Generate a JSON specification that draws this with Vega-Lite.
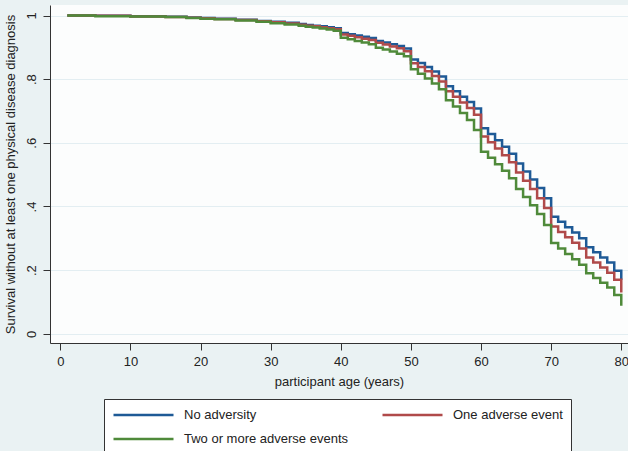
{
  "$schema": "https://vega.github.io/schema/vega-lite/v6.json",
  "width": 578,
  "height": 338,
  "autosize": {"type": "none"},
  "padding": {"left": 50, "top": 5, "right": 0, "bottom": 108},
  "background": "#eaf2f3",
  "config": {
    "font": "Liberation Sans",
    "view": {"fill": "#fcfdfd", "stroke": null}
  },
  "datasets": {
    "km": [
      {"age":1,"surv":1.0,"group":"No adversity"},{"age":5,"surv":0.999,"group":"No adversity"},{"age":10,"surv":0.998,"group":"No adversity"},{"age":15,"surv":0.996,"group":"No adversity"},{"age":18,"surv":0.994,"group":"No adversity"},{"age":20,"surv":0.992,"group":"No adversity"},{"age":22,"surv":0.990,"group":"No adversity"},{"age":25,"surv":0.987,"group":"No adversity"},{"age":28,"surv":0.983,"group":"No adversity"},{"age":30,"surv":0.980,"group":"No adversity"},{"age":32,"surv":0.977,"group":"No adversity"},{"age":34,"surv":0.973,"group":"No adversity"},{"age":35,"surv":0.970,"group":"No adversity"},{"age":36,"surv":0.968,"group":"No adversity"},{"age":37,"surv":0.966,"group":"No adversity"},{"age":38,"surv":0.963,"group":"No adversity"},{"age":39,"surv":0.960,"group":"No adversity"},
      {"age":40,"surv":0.945,"group":"No adversity"},{"age":41,"surv":0.941,"group":"No adversity"},{"age":42,"surv":0.937,"group":"No adversity"},{"age":43,"surv":0.933,"group":"No adversity"},{"age":44,"surv":0.929,"group":"No adversity"},{"age":45,"surv":0.920,"group":"No adversity"},{"age":46,"surv":0.915,"group":"No adversity"},{"age":47,"surv":0.910,"group":"No adversity"},{"age":48,"surv":0.904,"group":"No adversity"},{"age":49,"surv":0.896,"group":"No adversity"},
      {"age":50,"surv":0.862,"group":"No adversity"},{"age":51,"surv":0.851,"group":"No adversity"},{"age":52,"surv":0.838,"group":"No adversity"},{"age":53,"surv":0.824,"group":"No adversity"},{"age":54,"surv":0.808,"group":"No adversity"},{"age":55,"surv":0.778,"group":"No adversity"},{"age":56,"surv":0.762,"group":"No adversity"},{"age":57,"surv":0.745,"group":"No adversity"},{"age":58,"surv":0.728,"group":"No adversity"},{"age":59,"surv":0.708,"group":"No adversity"},
      {"age":60,"surv":0.646,"group":"No adversity"},{"age":61,"surv":0.628,"group":"No adversity"},{"age":62,"surv":0.608,"group":"No adversity"},{"age":63,"surv":0.588,"group":"No adversity"},{"age":64,"surv":0.566,"group":"No adversity"},{"age":65,"surv":0.535,"group":"No adversity"},{"age":66,"surv":0.510,"group":"No adversity"},{"age":67,"surv":0.485,"group":"No adversity"},{"age":68,"surv":0.458,"group":"No adversity"},{"age":69,"surv":0.426,"group":"No adversity"},
      {"age":70,"surv":0.368,"group":"No adversity"},{"age":71,"surv":0.352,"group":"No adversity"},{"age":72,"surv":0.335,"group":"No adversity"},{"age":73,"surv":0.318,"group":"No adversity"},{"age":74,"surv":0.300,"group":"No adversity"},{"age":75,"surv":0.272,"group":"No adversity"},{"age":76,"surv":0.256,"group":"No adversity"},{"age":77,"surv":0.240,"group":"No adversity"},{"age":78,"surv":0.224,"group":"No adversity"},{"age":79,"surv":0.198,"group":"No adversity"},{"age":80,"surv":0.170,"group":"No adversity"},

      {"age":1,"surv":1.0,"group":"One adverse event"},{"age":5,"surv":0.999,"group":"One adverse event"},{"age":10,"surv":0.997,"group":"One adverse event"},{"age":15,"surv":0.995,"group":"One adverse event"},{"age":18,"surv":0.993,"group":"One adverse event"},{"age":20,"surv":0.991,"group":"One adverse event"},{"age":22,"surv":0.989,"group":"One adverse event"},{"age":25,"surv":0.986,"group":"One adverse event"},{"age":28,"surv":0.982,"group":"One adverse event"},{"age":30,"surv":0.979,"group":"One adverse event"},{"age":32,"surv":0.975,"group":"One adverse event"},{"age":34,"surv":0.971,"group":"One adverse event"},{"age":35,"surv":0.968,"group":"One adverse event"},{"age":36,"surv":0.966,"group":"One adverse event"},{"age":37,"surv":0.963,"group":"One adverse event"},{"age":38,"surv":0.960,"group":"One adverse event"},{"age":39,"surv":0.957,"group":"One adverse event"},
      {"age":40,"surv":0.940,"group":"One adverse event"},{"age":41,"surv":0.936,"group":"One adverse event"},{"age":42,"surv":0.932,"group":"One adverse event"},{"age":43,"surv":0.927,"group":"One adverse event"},{"age":44,"surv":0.923,"group":"One adverse event"},{"age":45,"surv":0.914,"group":"One adverse event"},{"age":46,"surv":0.909,"group":"One adverse event"},{"age":47,"surv":0.903,"group":"One adverse event"},{"age":48,"surv":0.897,"group":"One adverse event"},{"age":49,"surv":0.888,"group":"One adverse event"},
      {"age":50,"surv":0.850,"group":"One adverse event"},{"age":51,"surv":0.838,"group":"One adverse event"},{"age":52,"surv":0.825,"group":"One adverse event"},{"age":53,"surv":0.810,"group":"One adverse event"},{"age":54,"surv":0.793,"group":"One adverse event"},{"age":55,"surv":0.762,"group":"One adverse event"},{"age":56,"surv":0.745,"group":"One adverse event"},{"age":57,"surv":0.727,"group":"One adverse event"},{"age":58,"surv":0.709,"group":"One adverse event"},{"age":59,"surv":0.688,"group":"One adverse event"},
      {"age":60,"surv":0.620,"group":"One adverse event"},{"age":61,"surv":0.602,"group":"One adverse event"},{"age":62,"surv":0.582,"group":"One adverse event"},{"age":63,"surv":0.561,"group":"One adverse event"},{"age":64,"surv":0.539,"group":"One adverse event"},{"age":65,"surv":0.507,"group":"One adverse event"},{"age":66,"surv":0.481,"group":"One adverse event"},{"age":67,"surv":0.455,"group":"One adverse event"},{"age":68,"surv":0.426,"group":"One adverse event"},{"age":69,"surv":0.395,"group":"One adverse event"},
      {"age":70,"surv":0.337,"group":"One adverse event"},{"age":71,"surv":0.320,"group":"One adverse event"},{"age":72,"surv":0.303,"group":"One adverse event"},{"age":73,"surv":0.286,"group":"One adverse event"},{"age":74,"surv":0.268,"group":"One adverse event"},{"age":75,"surv":0.240,"group":"One adverse event"},{"age":76,"surv":0.224,"group":"One adverse event"},{"age":77,"surv":0.208,"group":"One adverse event"},{"age":78,"surv":0.192,"group":"One adverse event"},{"age":79,"surv":0.170,"group":"One adverse event"},{"age":80,"surv":0.130,"group":"One adverse event"},

      {"age":1,"surv":1.0,"group":"Two or more adverse events"},{"age":5,"surv":0.998,"group":"Two or more adverse events"},{"age":10,"surv":0.997,"group":"Two or more adverse events"},{"age":15,"surv":0.995,"group":"Two or more adverse events"},{"age":18,"surv":0.992,"group":"Two or more adverse events"},{"age":20,"surv":0.990,"group":"Two or more adverse events"},{"age":22,"surv":0.988,"group":"Two or more adverse events"},{"age":25,"surv":0.984,"group":"Two or more adverse events"},{"age":28,"surv":0.980,"group":"Two or more adverse events"},{"age":30,"surv":0.976,"group":"Two or more adverse events"},{"age":32,"surv":0.972,"group":"Two or more adverse events"},{"age":34,"surv":0.968,"group":"Two or more adverse events"},{"age":35,"surv":0.965,"group":"Two or more adverse events"},{"age":36,"surv":0.962,"group":"Two or more adverse events"},{"age":37,"surv":0.959,"group":"Two or more adverse events"},{"age":38,"surv":0.956,"group":"Two or more adverse events"},{"age":39,"surv":0.952,"group":"Two or more adverse events"},
      {"age":40,"surv":0.930,"group":"Two or more adverse events"},{"age":41,"surv":0.925,"group":"Two or more adverse events"},{"age":42,"surv":0.920,"group":"Two or more adverse events"},{"age":43,"surv":0.915,"group":"Two or more adverse events"},{"age":44,"surv":0.910,"group":"Two or more adverse events"},{"age":45,"surv":0.899,"group":"Two or more adverse events"},{"age":46,"surv":0.893,"group":"Two or more adverse events"},{"age":47,"surv":0.887,"group":"Two or more adverse events"},{"age":48,"surv":0.880,"group":"Two or more adverse events"},{"age":49,"surv":0.872,"group":"Two or more adverse events"},
      {"age":50,"surv":0.831,"group":"Two or more adverse events"},{"age":51,"surv":0.817,"group":"Two or more adverse events"},{"age":52,"surv":0.802,"group":"Two or more adverse events"},{"age":53,"surv":0.786,"group":"Two or more adverse events"},{"age":54,"surv":0.768,"group":"Two or more adverse events"},{"age":55,"surv":0.734,"group":"Two or more adverse events"},{"age":56,"surv":0.714,"group":"Two or more adverse events"},{"age":57,"surv":0.694,"group":"Two or more adverse events"},{"age":58,"surv":0.672,"group":"Two or more adverse events"},{"age":59,"surv":0.640,"group":"Two or more adverse events"},
      {"age":60,"surv":0.572,"group":"Two or more adverse events"},{"age":61,"surv":0.553,"group":"Two or more adverse events"},{"age":62,"surv":0.533,"group":"Two or more adverse events"},{"age":63,"surv":0.512,"group":"Two or more adverse events"},{"age":64,"surv":0.489,"group":"Two or more adverse events"},{"age":65,"surv":0.455,"group":"Two or more adverse events"},{"age":66,"surv":0.430,"group":"Two or more adverse events"},{"age":67,"surv":0.404,"group":"Two or more adverse events"},{"age":68,"surv":0.376,"group":"Two or more adverse events"},{"age":69,"surv":0.342,"group":"Two or more adverse events"},
      {"age":70,"surv":0.285,"group":"Two or more adverse events"},{"age":71,"surv":0.268,"group":"Two or more adverse events"},{"age":72,"surv":0.251,"group":"Two or more adverse events"},{"age":73,"surv":0.234,"group":"Two or more adverse events"},{"age":74,"surv":0.217,"group":"Two or more adverse events"},{"age":75,"surv":0.190,"group":"Two or more adverse events"},{"age":76,"surv":0.175,"group":"Two or more adverse events"},{"age":77,"surv":0.160,"group":"Two or more adverse events"},{"age":78,"surv":0.145,"group":"Two or more adverse events"},{"age":79,"surv":0.122,"group":"Two or more adverse events"},{"age":80,"surv":0.088,"group":"Two or more adverse events"}
    ]
  },
  "data": {"name": "km"},
  "mark": {"type": "line", "interpolate": "step-after", "strokeWidth": 2.5, "clip": false},
  "encoding": {
    "x": {
      "field": "age", "type": "quantitative",
      "scale": {"domain": [-1.47, 80.96], "nice": false, "zero": false},
      "axis": {
        "values": [0, 10, 20, 30, 40, 50, 60, 70, 80],
        "title": "participant age (years)",
        "grid": false,
        "domainColor": "#333333", "domainWidth": 1,
        "tickColor": "#333333", "tickSize": 7, "tickWidth": 1,
        "labelFontSize": 13, "labelColor": "#222222", "labelPadding": 5, "labelFlush": false,
        "titleFontSize": 13, "titleFontWeight": "normal", "titleColor": "#222222", "titlePadding": 7
      }
    },
    "y": {
      "field": "surv", "type": "quantitative",
      "scale": {"domain": [-0.029, 1.033], "nice": false, "zero": false},
      "axis": {
        "values": [0, 0.2, 0.4, 0.6, 0.8, 1],
        "labelExpr": "datum.value == 0 ? '0' : datum.value == 1 ? '1' : replace(format(datum.value, '.1f'), '0.', '.')",
        "title": "Survival without at least one physical disease diagnosis",
        "grid": true, "gridColor": "#e3eef2", "gridWidth": 1,
        "domainColor": "#333333", "domainWidth": 1,
        "tickColor": "#333333", "tickSize": 7, "tickWidth": 1,
        "labelAngle": 270, "labelFontSize": 13, "labelColor": "#222222", "labelPadding": 5, "labelFlush": false,
        "titleFontSize": 13, "titleFontWeight": "normal", "titleColor": "#222222", "titlePadding": 8
      }
    },
    "color": {
      "field": "group", "type": "nominal",
      "scale": {
        "domain": ["No adversity", "One adverse event", "Two or more adverse events"],
        "range": ["#1e5a96", "#b04a4a", "#4f8a3a"]
      },
      "legend": {
        "title": null,
        "orient": "none",
        "direction": "horizontal",
        "legendX": 54,
        "legendY": 394,
        "columns": 2,
        "columnPadding": 32,
        "rowPadding": 8,
        "padding": 8,
        "clipHeight": 16,
        "strokeColor": "#333333",
        "fillColor": "#ffffff",
        "symbolType": "stroke",
        "symbolSize": 3600,
        "symbolStrokeWidth": 2.5,
        "labelFontSize": 13,
        "labelColor": "#222222",
        "labelOffset": 9,
        "labelLimit": 300
      }
    }
  }
}
